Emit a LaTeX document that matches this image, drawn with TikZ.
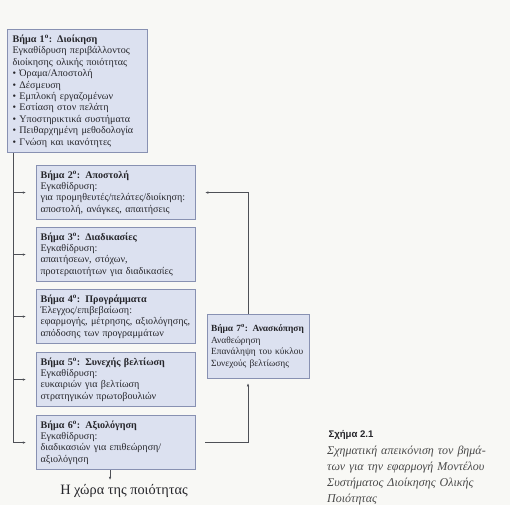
\documentclass[tikz,border=0pt]{standalone}
\usepackage{fontspec}
\setmainfont{Liberation Serif}
\newfontfamily\figsans{Liberation Sans}
\usetikzlibrary{arrows.meta,positioning,calc}
\definecolor{StepInk}{HTML}{26262B}
\definecolor{StepLine}{HTML}{4E5056}
\definecolor{StepEdge}{HTML}{8891B2}
\definecolor{StepFill}{HTML}{DCE1F0}
\definecolor{StepPaper}{HTML}{F8F8F5}
\definecolor{StepNote}{HTML}{4A4A4A}
\tikzset{
  step box/.style={draw=StepEdge, fill=StepFill, line width=1.1pt, anchor=north west,
    inner xsep=4pt, inner ysep=4pt, align=left, text=StepInk,
    font=\fontsize{10.1}{11.4}\selectfont},
  step wide/.style={step box, text width=151pt, minimum height=54pt},
  step flow/.style={draw=StepLine, line width=.55pt, -{Latex[length=3.2pt,width=2.4pt]}},
  step wire/.style={draw=StepLine, line width=.55pt},
  step result/.style={font=\fontsize{14.3}{16}\selectfont, text=StepInk},
  step caption/.style={font=\figsans\bfseries\fontsize{9.6}{11}\selectfont, text=StepInk, anchor=north west},
  step note/.style={font=\itshape\fontsize{12}{16}\selectfont, text=StepNote, anchor=north west,
    align=left, text width=182pt, inner sep=0pt},
}
\newcommand{\stepno}[1]{\textbf{Βήμα #1\textsuperscript{ο}:}}

\begin{document}
\begin{tikzpicture}[x=1pt,y=-1pt]
  \useasboundingbox (0,0) rectangle (510,505);
  \fill[StepPaper] (0,0) rectangle (510,505);

  % Step 1: the management box on top
  \node[step box, inner xsep=5pt, text width=130pt, minimum height=123pt] (admin) at (7,29)
    {\stepno{1} \textbf{Διοίκηση}\\
     Εγκαθίδρυση περιβάλλοντος\\
     διοίκησης ολικής ποιότητας\\
     • Όραμα/Αποστολή\\
     • Δέσμευση\\
     • Εμπλοκή εργαζομένων\\
     • Εστίαση στον πελάτη\\
     • Υποστηρικτικά συστήματα\\
     • Πειθαρχημένη μεθοδολογία\\
     • Γνώση και ικανότητες};

  % Steps 2 to 6, stacked down the left column
  \node[step wide] (mission) at (36,165)
    {\stepno{2} \textbf{Αποστολή}\\
     Εγκαθίδρυση:\\
     για προμηθευτές/πελάτες/διοίκηση:\\
     αποστολή, ανάγκες, απαιτήσεις};
  \node[step wide] (process) at (36,227)
    {\stepno{3} \textbf{Διαδικασίες}\\
     Εγκαθίδρυση:\\
     απαιτήσεων, στόχων,\\
     προτεραιοτήτων για διαδικασίες};
  \node[step wide] (program) at (36,289)
    {\stepno{4} \textbf{Προγράμματα}\\
     Έλεγχος/επιβεβαίωση:\\
     εφαρμογής, μέτρησης, αξιολόγησης,\\
     απόδοσης των προγραμμάτων};
  \node[step wide] (improve) at (36,352)
    {\stepno{5} \textbf{Συνεχής βελτίωση}\\
     Εγκαθίδρυση:\\
     ευκαιριών για βελτίωση\\
     στρατηγικών πρωτοβουλιών};
  \node[step wide] (eval) at (36,415)
    {\stepno{6} \textbf{Αξιολόγηση}\\
     Εγκαθίδρυση:\\
     διαδικασιών για επιθεώρηση/\\
     αξιολόγηση};

  % Step 7: review, feeding back into step 2
  \node[step box, inner xsep=3.5pt, text width=95pt, minimum height=64pt,
    font=\fontsize{9.4}{11.6}\selectfont] (review) at (207,314)
    {\stepno{7} \textbf{Ανασκόπηση}\\
     Αναθεώρηση\\
     Επανάληψη του κύκλου\\
     Συνεχούς βελτίωσης};

  % Trunk from step 1 with a branch into each of steps 2--6
  \coordinate (trunk) at ($(admin.south west)+(6,0)$);
  \draw[step wire] (trunk) -- (trunk |- eval.west);
  \foreach \stepname in {mission,process,program,improve,eval}
    \draw[step flow] (trunk |- \stepname.west) -- ($(\stepname.west)+(-10,0)$);

  % Feedback loop on the right
  \coordinate (loop) at ($(review.south west)+(41,0)$);
  \draw[step flow] ($(eval.east)+(9,0)$) -| ($(loop |- review.south)+(0,4)$);
  \draw[step flow] (loop |- review.north) |- ($(mission.east)+(9,0)$);

  % Outcome below the last step
  \draw[step flow] ($(eval.south)+(-6,0)$) -- ++(0,10) coordinate (result tip);
  \node[step result, anchor=north, inner sep=0pt] (result) at ($(result tip)+(14,4)$) {Η χώρα της ποιότητας};

  % Figure caption
  \node[step caption] (fig) at (325,427) {Σχήμα 2.1};
  \node[step note] (note) at (327,446)
    {Σχηματική απεικόνιση τον βημά-\\
     των για την εφαρμογή Μοντέλου\\
     Συστήματος Διοίκησης Ολικής\\
     Ποιότητας};
\end{tikzpicture}
\end{document}
